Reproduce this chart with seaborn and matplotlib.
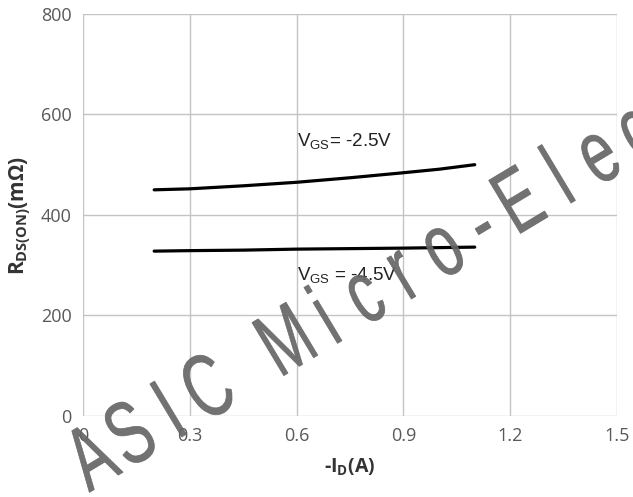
import numpy as np
import pandas as pd
import matplotlib.pyplot as plt
import seaborn as sns
from matplotlib.textpath import TextPath
from matplotlib.patches import PathPatch
from matplotlib.font_manager import FontProperties
from matplotlib.transforms import Affine2D, IdentityTransform

# drain current -ID (A)
current = [0.2, 0.3, 0.45, 0.6, 0.75, 0.9, 1.0, 1.1]
# RDS(ON) (mOhm) per gate voltage
rds_vgs25 = [450, 452, 458, 465, 474, 484, 491, 500]
rds_vgs45 = [328, 329, 330, 332, 333, 334, 335, 336]

x_ticks = [0, 0.3, 0.6, 0.9, 1.2, 1.5]
x_tick_labels = ["0", "0.3", "0.6", "0.9", "1.2", "1.5"]
y_ticks = [0, 200, 400, 600, 800]

WATERMARK = "ASIC Micro-Electronics"


def add_watermark(fig):
    # narrow Arial-like letters on a fixed pitch, rotated ~31 deg
    prop = FontProperties(family="Liberation Sans")
    angle = np.deg2rad(31)
    step = 45.4
    x0, y0 = 223.0 - 3 * step * np.cos(angle), 84.8 - 3 * step * np.sin(angle)
    for i, ch in enumerate(WATERMARK):
        if ch == " ":
            continue
        tp = TextPath((0, 0), ch, size=90, prop=prop)
        ext = tp.get_extents()
        cx = (ext.x0 + ext.x1) / 2
        trans = (Affine2D().translate(-cx, 0).scale(0.66, 1.0)
                 .rotate(angle)
                 .translate(x0 + i * step * np.cos(angle), y0 + i * step * np.sin(angle)))
        patch = PathPatch(trans.transform_path(tp), facecolor="#666666", edgecolor="#666666",
                          linewidth=0.5, alpha=0.92, transform=IdentityTransform(), zorder=10)
        fig.patches.append(patch)


def make_plot():
    df = pd.DataFrame({
        "current": current * 2,
        "rds": rds_vgs25 + rds_vgs45,
        "vgs": ["-2.5V"] * len(current) + ["-4.5V"] * len(current),
    })

    sns.set_theme(style="whitegrid")
    plt.rcParams["font.family"] = ["Open Sans", "DejaVu Sans"]
    plt.rcParams["mathtext.fontset"] = "custom"
    plt.rcParams["mathtext.rm"] = "Liberation Sans"
    plt.rcParams["mathtext.bf"] = "Open Sans:bold"

    fig = plt.figure(figsize=(6.33, 4.97), dpi=100)
    ax = fig.add_axes([0.131, 0.163, 0.844, 0.809])

    sns.lineplot(
        data=df, x="current", y="rds", hue="vgs",
        palette=["black", "black"], linewidth=2.3, legend=False, ax=ax,
    )

    ax.set_xlim(0, 1.5)
    ax.set_ylim(0, 800)
    ax.set_xticks(x_ticks)
    ax.set_xticklabels(x_tick_labels)
    ax.set_yticks(y_ticks)
    ax.tick_params(length=0, labelsize=13, labelcolor="#595959", pad=8)
    ax.grid(True, color="#c4c4c4", linewidth=1)
    for side in ax.spines.values():
        side.set_visible(False)
    ax.set_facecolor("white")

    ax.set_xlabel(r"-I$_{\mathbf{D}}$(A)", fontsize=14, fontweight="bold",
                  color="#333333", labelpad=8)
    ax.set_ylabel(r"R$_{\mathbf{DS(ON)}}$(m$\mathbf{\Omega}$)", fontsize=15,
                  fontweight="bold", color="#333333", labelpad=6)

    ax.text(0.601, 546, r"V$_{\rm GS}$= -2.5V", fontsize=13.5, color="#222222",
            family="Liberation Sans", va="center")
    ax.text(0.601, 279, r"V$_{\rm GS}$ = -4.5V", fontsize=13.5, color="#222222",
            family="Liberation Sans", va="center")

    add_watermark(fig)

    fig.savefig("out.png", dpi=100)
    plt.close(fig)


if __name__ == "__main__":
    make_plot()
